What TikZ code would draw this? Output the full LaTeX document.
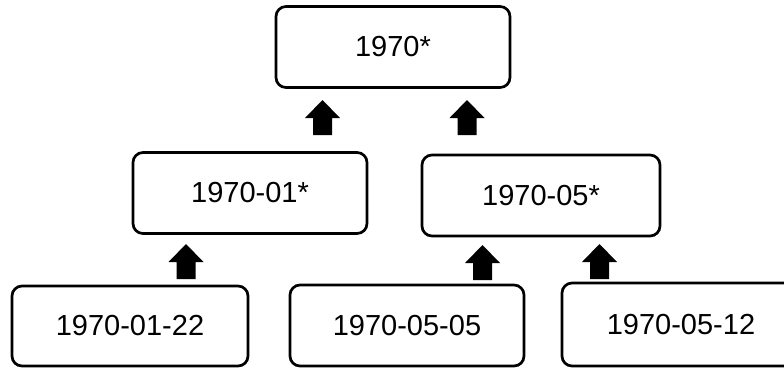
\documentclass[tikz,border=0pt]{standalone}
\usepackage{fontspec}
\setmainfont{Liberation Sans}
\usepackage{tikz}
\tikzset{
  periodo/.style={draw, rounded corners=10pt, line width=2.7pt, minimum width=#1, minimum height=81pt, inner sep=0pt, font=\fontsize{29}{34}\selectfont},
  periodo/.default=234pt,
  flecha/.pic={\fill (0,0) -- (17.5,18) -- (9.5,18) -- (9.5,35) -- (-9.5,35) -- (-9.5,18) -- (-17.5,18) -- cycle;},
}

\begin{document}
\begin{tikzpicture}[x=1pt, y=-1pt]
  \clip (0,0) rectangle (784,368);
  \node[periodo] (ano) at (393,47) {1970*};
  \node[periodo] (jan) at (250,193) {1970-01*};
  \node[periodo=238pt] (mai) at (541,195.5) {1970-05*};
  \node[periodo=236pt, minimum height=80pt] (d22) at (130,326) {1970-01-22};
  \node[periodo] (d05) at (407,325.5) {1970-05-05};
  \node[periodo=238pt, minimum height=83pt] (d12) at (681,324.5) {1970-05-12};
  % setas de bloco entre os niveis
  \pic (janano) at (322.5,100) {flecha};
  \pic (maiano) at (467,100) {flecha};
  \pic (d22jan) at (186,244) {flecha};
  \pic (d05mai) at (482.5,245) {flecha};
  \pic (d12mai) at (599.5,244) {flecha};
\end{tikzpicture}
\end{document}
